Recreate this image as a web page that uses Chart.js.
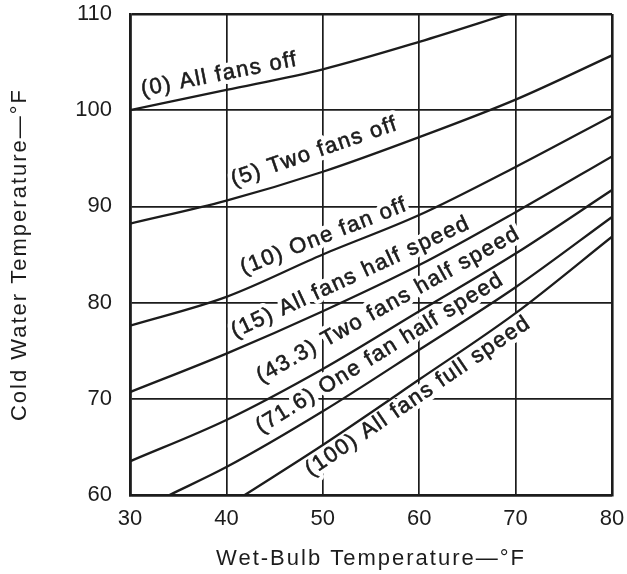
<!DOCTYPE html>
<html><head><meta charset="utf-8">
<script src="https://cdn.jsdelivr.net/npm/chart.js@4.4.1/dist/chart.umd.min.js"></script>
<style>html,body{margin:0;padding:0;background:#fff;}</style>
</head><body>
<canvas id="c" width="627" height="574"></canvas>
<script>
// ---- data ----
const xTickValues = [30, 40, 50, 60, 70, 80];
const yTickValues = [60, 70, 80, 90, 100, 110];
const xTitle = "Wet-Bulb Temperature\u2014\u00B0F";
const yTitle = "Cold Water Temperature\u2014\u00B0F";

const seriesNames = [
  "(0) All fans off",
  "(5) Two fans off",
  "(10) One fan off",
  "(15) All fans half speed",
  "(43.3) Two fans half speed",
  "(71.6) One fan half speed",
  "(100) All fans full speed"
];

const wbAllOff = [30, 40, 50, 60, 69.2];
const cwAllOff = [100, 102.1, 104.25, 107.1, 110];
const wbStd = [30, 40, 50, 60, 70, 80];
const cwTwoOff = [88.2, 90.6, 93.6, 97.2, 101.1, 105.7];
const cwOneOff = [77.6, 80.6, 85.0, 89.1, 94.1, 99.4];
const cwAllHalf = [70.7, 74.7, 79.1, 83.9, 89.4, 95.2];
const cwTwoHalf = [63.5, 67.8, 73.1, 79.1, 85.1, 91.7];
const wbOneHalf = [34.1, 40, 50, 60, 70, 80];
const cwOneHalf = [60, 62.9, 68.7, 75.1, 81.6, 88.9];
const wbAllFull = [41.9, 50, 60, 70, 80];
const cwAllFull = [60, 65.2, 72.0, 78.9, 86.85];

// label baselines (data units): start and end of each curve label
const labelStartX = [31.29, 40.75, 41.77, 40.88, 43.62, 43.58, 48.78];
const labelStartY = [101.47, 92.09, 82.91, 76.31, 71.62, 66.38, 61.9];
const labelEndX   = [47.63, 58.70, 58.87, 65.58, 70.11, 69.42, 72.36];
const labelEndY   = [104.70, 98.28, 89.63, 87.86, 86.51, 82.35, 78.01];

// ---- build ----
const INK = '#1c1c1c';
const FONT = '"Liberation Sans", Arial, Helvetica, sans-serif';
function pts(xs, ys){ return xs.map((v,i)=>({x:v, y:ys[i]})); }
const seriesPoints = [
  pts(wbAllOff, cwAllOff),
  pts(wbStd, cwTwoOff),
  pts(wbStd, cwOneOff),
  pts(wbStd, cwAllHalf),
  pts(wbStd, cwTwoHalf),
  pts(wbOneHalf, cwOneHalf),
  pts(wbAllFull, cwAllFull)
];

const labelPlugin = {
  id: 'curveLabels',
  beforeDatasetsDraw(chart){
    const {ctx, scales:{x, y}} = chart;
    ctx.save();
    ctx.font = '22px ' + FONT;
    ctx.letterSpacing = '1.5px';
    ctx.textAlign = 'left';
    ctx.textBaseline = 'alphabetic';
    seriesNames.forEach((t, i) => {
      const px0 = x.getPixelForValue(labelStartX[i]);
      const py0 = y.getPixelForValue(labelStartY[i]);
      const px1 = x.getPixelForValue(labelEndX[i]);
      const py1 = y.getPixelForValue(labelEndY[i]);
      const a = Math.atan2(py1 - py0, px1 - px0);
      ctx.save();
      ctx.translate(px0, py0);
      ctx.rotate(a);
      ctx.lineJoin = 'round';
      ctx.lineWidth = 9;
      ctx.strokeStyle = '#ffffff';
      ctx.strokeText(t, 0, 0);
      ctx.fillStyle = INK;
      ctx.lineWidth = 0.6;
      ctx.strokeStyle = INK;
      ctx.fillText(t, 0, 0);
      ctx.strokeText(t, 0, 0);
      ctx.restore();
    });
    ctx.restore();
  },
  afterDraw(chart){
    const {ctx, chartArea:a} = chart;
    ctx.save();
    ctx.font = '22px ' + FONT;
    ctx.letterSpacing = '2px';
    ctx.fillStyle = INK;
    ctx.textAlign = 'center';
    ctx.textBaseline = 'middle';
    ctx.fillText(xTitle, (a.left + a.right)/2, 559);
    ctx.translate(20, (a.top + a.bottom)/2);
    ctx.rotate(-Math.PI/2);
    ctx.fillText(yTitle, 0, 0);
    ctx.restore();
  }
};

new Chart(document.getElementById('c'), {
  type: 'line',
  data: {
    datasets: seriesPoints.map((d, i) => ({
      label: seriesNames[i],
      data: d,
      borderColor: INK,
      borderWidth: 2.3,
      pointRadius: 0,
      fill: false,
      cubicInterpolationMode: 'monotone'
    }))
  },
  options: {
    responsive: false,
    devicePixelRatio: 1,
    animation: false,
    layout: { padding: { top: 14, right: 15, left: 0, bottom: 0 } },
    plugins: { legend: { display: false }, tooltip: { enabled: false } },
    scales: {
      x: {
        type: 'linear', min: 30, max: 80,
        afterFit(s){ s.height = 79; s.paddingLeft = 0; s.paddingRight = 0; },
        afterBuildTicks(s){ s.ticks = xTickValues.map(v => ({value: v})); },
        ticks: { color: INK, font: { family: FONT, size: 22 }, padding: 11, maxRotation: 0 },
        grid: { color: INK, drawTicks: false,
          lineWidth: c => (c.tick && (c.tick.value === 80 || c.tick.value === 30)) ? 2.6 : 1.7 },
        border: { display: true, color: INK, width: 2.6 },
        title: { display: false }
      },
      y: {
        type: 'linear', min: 60, max: 110,
        afterFit(s){ s.width = 130; s.paddingTop = 0; s.paddingBottom = 0; },
        afterBuildTicks(s){ s.ticks = yTickValues.map(v => ({value: v})); },
        ticks: { color: INK, font: { family: FONT, size: 22 }, padding: 18 },
        grid: { color: INK, drawTicks: false,
          lineWidth: c => (c.tick && (c.tick.value === 110 || c.tick.value === 60)) ? 2.6 : 1.7 },
        border: { display: true, color: INK, width: 2.6 },
        title: { display: false }
      }
    }
  },
  plugins: [labelPlugin]
});
</script>
</body></html>
